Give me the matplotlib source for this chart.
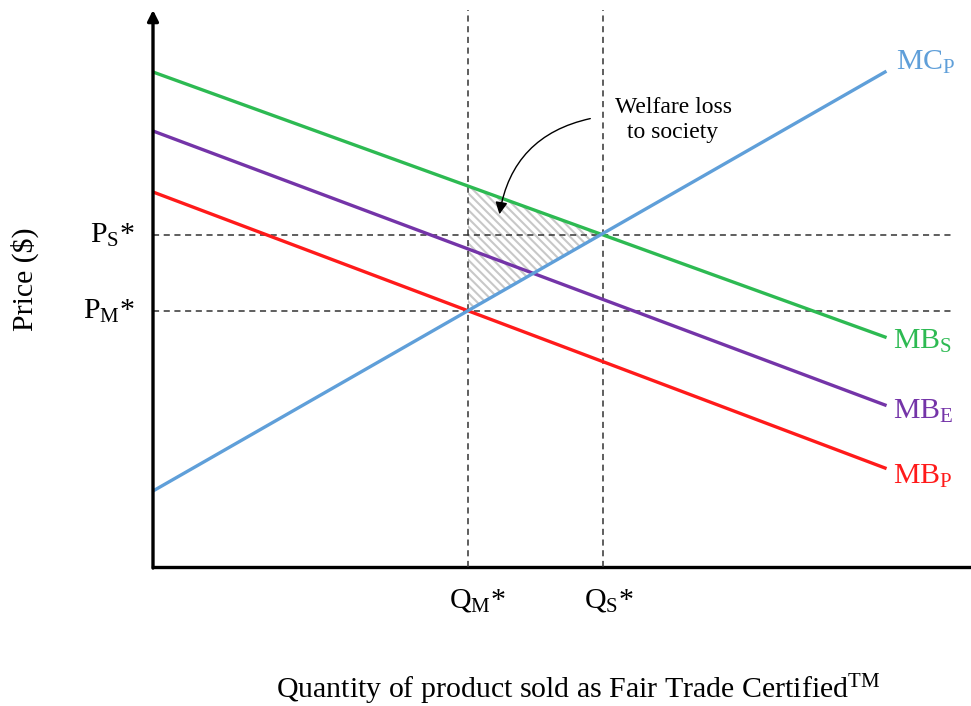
#!/usr/bin/env python3
""" Welfare loss from under-consumption of Fair Trade goods """
import matplotlib.pyplot as plt
from matplotlib.patches import Polygon

plt.rcParams['font.family'] = ['Liberation Serif', 'DejaVu Serif']
plt.rcParams['mathtext.fontset'] = 'custom'
plt.rcParams['mathtext.rm'] = 'Liberation Serif'
plt.rcParams['mathtext.it'] = 'Liberation Serif:italic'
plt.rcParams['hatch.linewidth'] = 1.5
plt.rcParams['hatch.color'] = '#c8c8c8'

# quantity range of the curves and curve end values (price)
q_ends = [0, 732]
mc_p = [76, 495]
mb_s = [495, 230]
mb_e = [436, 162]
mb_p = [375, 99]

q_m = 315
q_s = 450
p_m = 256
p_s = 332

BLUE = '#5f9fd9'
GREEN = '#2dba52'
PURPLE = '#7434a8'
RED = '#ff1a1a'


def value_at(line, q):
    """ linear interpolation along a straight curve """
    return line[0] + (line[1] - line[0]) * q / q_ends[1]


fig = plt.figure(figsize=(9.71, 7.06), dpi=100)
ax = fig.add_axes([153 / 971, (706 - 567) / 706, 818 / 971, 557 / 706])
ax.set_xlim(0, 818)
ax.set_ylim(0, 557)
ax.axis('off')

# axes with arrow on y
ax.plot([0, 818], [0, 0], color='black', lw=2.4, clip_on=False)
ax.annotate('', xy=(0, 557), xytext=(0, -1),
            arrowprops=dict(arrowstyle='-|>', color='black', lw=2.4,
                            mutation_scale=16, shrinkA=0, shrinkB=0))

# dashed guides
dash = dict(color='#333333', lw=1.1, ls=(0, (4, 3)))
ax.plot([q_m, q_m], [0, 557], **dash)
ax.plot([q_s, q_s], [0, 557], **dash)
ax.plot([0, 802], [p_s, p_s], **dash)
ax.plot([0, 802], [p_m, p_m], **dash)

# hatched welfare loss triangle
tri = Polygon([(q_m, value_at(mb_s, q_m)), (q_m, value_at(mc_p, q_m)),
               (q_s, value_at(mb_s, q_s))],
              closed=True, facecolor='none', edgecolor='#c8c8c8',
              hatch='\\\\\\\\', lw=0)
ax.add_patch(tri)

# curves
ax.plot(q_ends, mb_s, color=GREEN, lw=2.4)
ax.plot(q_ends, mb_e, color=PURPLE, lw=2.4)
ax.plot(q_ends, mb_p, color=RED, lw=2.4)
ax.plot(q_ends, mc_p, color=BLUE, lw=2.4)

# curve labels
fs = 21.5
ax.text(743, 505, r'MC$_\mathrm{P}$', color=BLUE, fontsize=fs, va='center')
ax.text(740, 226, r'MB$_\mathrm{S}$', color=GREEN, fontsize=fs, va='center')
ax.text(740, 156, r'MB$_\mathrm{E}$', color=PURPLE, fontsize=fs, va='center')
ax.text(740, 91, r'MB$_\mathrm{P}$', color=RED, fontsize=fs, va='center')

# price and quantity labels
ax.text(-18, p_s, r'P$_\mathrm{S}$*', fontsize=fs, ha='right', va='center')
ax.text(-18, p_m, r'P$_\mathrm{M}$*', fontsize=fs, ha='right', va='center')
ax.text(q_m + 9, -33, r'Q$_\mathrm{M}$*', fontsize=fs, ha='center',
        va='center')
ax.text(q_s + 6, -33, r'Q$_\mathrm{S}$*', fontsize=fs, ha='center',
        va='center')

# annotation
ax.text(520, 447, 'Welfare loss\nto society', fontsize=17, ha='center',
        va='center', linespacing=1.3)
ax.annotate('', xy=(346, 350), xytext=(440, 449),
            arrowprops=dict(arrowstyle='-|>', color='black', lw=1.0,
                            mutation_scale=18,
                            connectionstyle='arc3,rad=0.35'))

fig.text(25 / 971, 1 - 279 / 706, 'Price ($)', rotation=90, fontsize=fs,
         ha='center', va='center')
fig.text(578 / 971, 1 - 690 / 706,
         r'Quantity of product sold as Fair Trade Certified$^\mathrm{TM}$',
         fontsize=fs, ha='center', va='center')

fig.savefig('out.png', dpi=100)
